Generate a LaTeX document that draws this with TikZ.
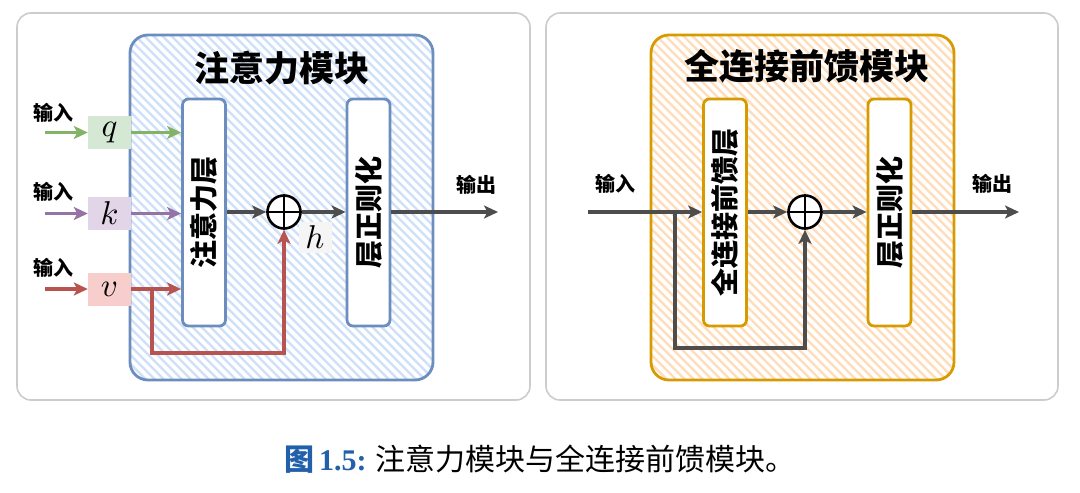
\RequirePackage{fix-cm}
\documentclass[tikz,border=0pt]{standalone}
\usepackage{fontspec}
\newfontfamily\cjk{Noto Sans CJK SC}
\newfontfamily\capserif{Liberation Serif}
\usetikzlibrary{arrows.meta,calc}
\definecolor{panelgray}{HTML}{CCCCCC}
\definecolor{bfill}{HTML}{CFE0FA}
\definecolor{bline}{HTML}{6C8EBF}
\definecolor{ofill}{HTML}{FFDDBA}
\definecolor{oline}{HTML}{D79B00}
\definecolor{gfill}{HTML}{D5E8D4}
\definecolor{gline}{HTML}{82B366}
\definecolor{pfill}{HTML}{E1D5E7}
\definecolor{pline}{HTML}{9673A6}
\definecolor{rfill}{HTML}{F8CECC}
\definecolor{rline}{HTML}{B85450}
\definecolor{arrgray}{HTML}{4D4D4D}
\definecolor{hgray}{HTML}{F5F5F5}
\definecolor{capblue}{HTML}{2160AA}
\newcommand\hatchbox[6]{%
  \begin{scope}
    \clip[rounded corners=18] (#1,#2) rectangle (#3,#4);
    \fill[#5] (#1,#2) rectangle (#3,#4);
    \foreach \s in {-360,-351,...,320}
      \draw[white,line width=3.8] (#1+\s,#2) -- ++(360,360);
  \end{scope}
  \draw[#6,line width=2.8,rounded corners=18] (#1,#2) rectangle (#3,#4);}
\newcommand\mvar[1]{\scalebox{3.3}{$#1$}}
\tikzset{
  panel/.style={draw=panelgray,line width=1.6,rounded corners=14,fill=white},
  layerbox/.style={draw,line width=2.8,rounded corners=6,fill=white,minimum width=43,minimum height=227,inner sep=0},
  vtext/.style={font=\cjk\bfseries\fontsize{28}{28}\selectfont,rotate=90,inner sep=0},
  title/.style={font=\cjk\bfseries\fontsize{35}{35}\selectfont,inner sep=0},
  iolabel/.style={font=\cjk\bfseries\fontsize{20}{20}\selectfont,inner sep=0},
  varbox/.style={minimum width=43,minimum height=33,inner sep=0,font=\normalsize},
  plus/.style={circle,draw=black,line width=2.6,fill=white,minimum size=33,inner sep=0},
  arr/.style={line width=3.2,-{Stealth[length=14,width=13,inset=3.5]}},
}
\begin{document}
\begin{tikzpicture}[x=1pt,y=-1pt]
\useasboundingbox (0,0) rectangle (1080,493);
% panels
\node[panel,minimum width=513,minimum height=387,inner sep=0] (lp) at (273.5,206.5) {};
\node[panel,minimum width=512,minimum height=387,inner sep=0] (rp) at (802,206.5) {};
% module boxes
\hatchbox{130}{35}{433}{380}{bfill}{bline}
\hatchbox{651}{35}{954}{380}{ofill}{oline}
% ===== left: attention module =====
\node[title] (t1) at (282,68) {注意力模块};
\node[layerbox,draw=bline] (att) at (204,212.5) {};
\node[vtext] (attT) at (att) {注意力层};
\node[layerbox,draw=bline] (ln1) at (368.5,212.5) {};
\node[vtext] (ln1T) at (ln1) {层正则化};
\node[plus] (p1) at (284,212) {};
\draw[line width=2.2] (p1.north) -- (p1.south) (p1.west) -- (p1.east);
\node[varbox,fill=gfill] (q) at (109.5,132.5) {\mvar{q}};
\node[varbox,fill=pfill] (k) at (109.5,213.5) {\mvar{k}};
\node[varbox,fill=rfill] (v) at (109.5,289) {\mvar{v}};
\node[iolabel] (iq) at (54,113) {输入};
\node[iolabel] (ik) at (54,192) {输入};
\node[iolabel] (iv) at (54,268) {输入};
\coordinate (qin) at (45,132.5);
\coordinate (kin) at (45,213.5);
\coordinate (vin) at (45,289);
\draw[arr,gline] (qin) -- (q.west);
\draw[arr,pline] (kin) -- (k.west);
\draw[arr,rline] (vin) -- (v.west);
\draw[arr,gline] (q.east) -- (q.east -| att.west);
\draw[arr,pline] (k.east) -- (k.east -| att.west);
\draw[arr,rline] (v.east) -- (v.east -| att.west);
\coordinate (vs) at (152,289);
\coordinate (vb) at (152,353);
\draw[arr,rline] (vs) -- (vb) -| (p1.south);
\draw[arr,arrgray] (att.east |- p1.west) -- (p1.west);
\draw[arr,arrgray] (p1.east) -- (p1.east -| ln1.west);
\node[fill=hgray,minimum width=33,minimum height=31,inner sep=0,font=\normalsize] (h) at (315,237) {\mvar{h}};
\coordinate (out1) at (498,212);
\draw[arr,arrgray] (ln1.east |- out1) -- (out1);
\node[iolabel] (o1) at (476,185) {输出};
% ===== right: FFN module =====
\node[title] (t2) at (807,66) {全连接前馈模块};
\node[layerbox,draw=oline] (ffn) at (725,212.5) {};
\node[vtext] (ffnT) at (ffn) {全连接前馈层};
\node[layerbox,draw=oline] (ln2) at (889.5,212.5) {};
\node[vtext] (ln2T) at (ln2) {层正则化};
\node[plus] (p2) at (805,212) {};
\draw[line width=2.2] (p2.north) -- (p2.south) (p2.west) -- (p2.east);
\coordinate (in2) at (588,212);
\node[iolabel] (i2) at (615,184) {输入};
\draw[arr,arrgray] (in2) -- (in2 -| ffn.west);
\coordinate (rs) at (675,212);
\coordinate (rb) at (675,348);
\draw[arr,arrgray] (rs) -- (rb) -| (p2.south);
\draw[arr,arrgray] (ffn.east |- p2.west) -- (p2.west);
\draw[arr,arrgray] (p2.east) -- (p2.east -| ln2.west);
\coordinate (out2) at (1019,212);
\draw[arr,arrgray] (ln2.east |- out2) -- (out2);
\node[iolabel] (o2) at (992,184) {输出};
% caption
\node[inner sep=0,font=\fontsize{30}{30}\selectfont] (cap) at (540,459)
  {{\color{capblue}\cjk\bfseries 图\,\capserif\bfseries 1.5:}\ \cjk 注意力模块与全连接前馈模块。};
\end{tikzpicture}
\end{document}
